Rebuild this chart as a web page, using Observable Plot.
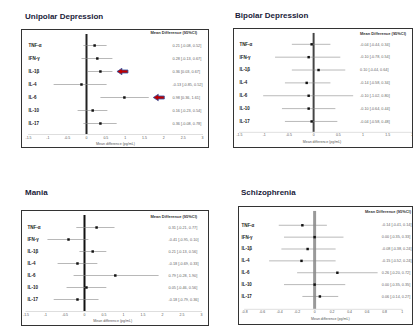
<!DOCTYPE html>
<html>
<head>
<meta charset="utf-8">
<script src="https://cdn.jsdelivr.net/npm/d3@7"></script>
<script src="https://cdn.jsdelivr.net/npm/@observablehq/plot@0.6"></script>
<style>
  body { margin: 0; background: #fff; }
  #root { position: relative; width: 413px; height: 326px; overflow: hidden; background: #fff; font-family: "Liberation Sans", Arial, sans-serif; }
  .title { position: absolute; font-size: 8px; font-weight: bold; line-height: 9px; color: #1b1b3a; white-space: nowrap; }
  .box { position: absolute; }
  .box svg { display: block; outline: 1.5px solid #333; outline-offset: -1.5px; overflow: visible; }
</style>
</head>
<body>
<div id="root"></div>
<script>
// ---- data ----
const rows = ["TNF-α", "IFN-γ", "IL-1β", "IL-4", "IL-6", "IL-10", "IL-17"];
const headerText = "Mean Difference (95%CI)";
const xAxisLabel = "Mean difference (pg/mL)";

const unipolarMean = [0.21, 0.28, 0.36, -0.13, 0.98, 0.16, 0.36];
const unipolarLow  = [-0.08, -0.13, 0.03, -0.85, 0.36, -0.23, -0.08];
const unipolarHigh = [0.52, 0.67, 0.67, 0.52, 1.61, 0.54, 0.78];
const unipolarTicks = [-1.5, -1, -0.5, 0, 0.5, 1, 1.5, 2, 2.5, 3];
const unipolarArrowRows = ["IL-1β", "IL-6"];
const unipolarArrowX = [0.93, 1.87];

const bipolarMean = [-0.04, -0.10, 0.10, -0.14, -0.10, -0.10, -0.04];
const bipolarLow  = [-0.44, -0.78, -0.44, -0.58, -1.02, -0.64, -0.58];
const bipolarHigh = [0.34, 0.54, 0.64, 0.34, 0.80, 0.44, 0.48];
const bipolarTicks = [-1.5, -1, -0.5, 0, 0.5, 1, 1.5, 2];

const maniaMean = [0.31, -0.41, 0.21, -0.18, 0.79, 0.05, -0.18];
const maniaLow  = [-0.21, -0.95, -0.13, -0.69, -0.28, -0.46, -0.79];
const maniaHigh = [0.77, 0.10, 0.56, 0.33, 1.90, 0.56, 0.36];
const maniaTicks = [-1.5, -1, -0.5, 0, 0.5, 1, 1.5, 2, 2.5, 3];

const schizoMean = [-0.14, 0.00, -0.08, -0.15, 0.26, 0.00, 0.06];
const schizoLow  = [-0.41, -0.35, -0.38, -0.52, -0.20, -0.35, -0.14];
const schizoHigh = [0.14, 0.33, 0.24, 0.24, 0.72, 0.35, 0.27];
const schizoTicks = [-0.8, -0.6, -0.4, -0.2, 0, 0.2, 0.4, 0.6, 0.8, 1];

// ---- custom block-arrow symbol (pointing left) ----
const leftArrow = {
  draw(context, size) {
    const s = Math.sqrt(size / Math.PI);
    context.moveTo(-s, 0);
    context.lineTo(-0.1 * s, -0.58 * s);
    context.lineTo(-0.1 * s, -0.27 * s);
    context.lineTo(s, -0.27 * s);
    context.lineTo(s, 0.27 * s);
    context.lineTo(-0.1 * s, 0.27 * s);
    context.lineTo(-0.1 * s, 0.58 * s);
    context.closePath();
  }
};

const fmt = v => v.toFixed(2);

const panels = [
  { title: "Unipolar Depression", tx: 25, ty: 12,
    left: 21, top: 29, w: 188, h: 119, ml: 7, mr: 7, mt: 5, mb: 14, pad: 0.75,
    mean: unipolarMean, lo: unipolarLow, hi: unipolarHigh, ticks: unipolarTicks,
    zero: "#222", zeroW: 2, lx: 7, vx: 151, hx: 129, hy: 3, labDx: 0,
    arrows: unipolarArrowRows.map((r, i) => ({ row: r, x: unipolarArrowX[i] })) },
  { title: "Bipolar Depression", tx: 235, ty: 11,
    left: 233, top: 28, w: 182, h: 121, ml: 6, mr: 1, mt: 5, mb: 16, pad: 0.8,
    mean: bipolarMean, lo: bipolarLow, hi: bipolarHigh, ticks: bipolarTicks,
    zero: "#444", zeroW: 2, lx: 6, vx: 128, hx: 128, hy: 5, labDx: -4, arrows: [] },
  { title: "Mania", tx: 25, ty: 188,
    left: 21, top: 210, w: 188, h: 116, ml: 4.5, mr: 8, mt: 5, mb: 15, pad: 0.84,
    mean: maniaMean, lo: maniaLow, hi: maniaHigh, ticks: maniaTicks,
    zero: "#111", zeroW: 2, lx: 6, vx: 147, hx: 129, hy: 6, labDx: -1, arrows: [] },
  { title: "Schizophrenia", tx: 241, ty: 188,
    left: 238, top: 206, w: 177, h: 120, ml: 6.2, mr: 11.5, mt: 5, mb: 16, pad: 0.86,
    mean: schizoMean, lo: schizoLow, hi: schizoHigh, ticks: schizoTicks,
    zero: "#999", zeroW: 3, lx: 3, vx: 145, hx: 128, hy: 5, labDx: 7, arrows: [] }
];

const root = document.getElementById("root");

for (const p of panels) {
  const t = document.createElement("div");
  t.className = "title";
  t.style.left = p.tx + "px";
  t.style.top = p.ty + "px";
  t.textContent = p.title;
  root.appendChild(t);

  const data = rows.map((r, i) => ({ row: r, m: p.mean[i], lo: p.lo[i], hi: p.hi[i] }));
  const domain = [p.ticks[0], p.ticks[p.ticks.length - 1]];

  const chart = Plot.plot({
    width: p.w, height: p.h,
    marginLeft: p.ml, marginRight: p.mr, marginTop: p.mt, marginBottom: p.mb,
    x: { domain, label: null },
    y: { type: "point", domain: rows, padding: p.pad, axis: null },
    style: { fontFamily: "Liberation Sans, Arial, sans-serif", background: "#fff", overflow: "visible" },
    marks: [
      Plot.frame({ anchor: "bottom", stroke: "#c8c8c8", strokeWidth: 0.6 }),
      Plot.axisX({ ticks: p.ticks, tickSize: 0, tickPadding: 1.5, fontSize: 3.5, fill: "#555",
                   tickFormat: d => String(d), label: null }),
      Plot.text([xAxisLabel], { frameAnchor: "bottom", dy: 10.5, dx: p.labDx, fontSize: 3.6, fill: "#555" }),
      Plot.ruleX([0], { stroke: p.zero, strokeWidth: p.zeroW }),
      Plot.link(data, { x1: "lo", x2: "hi", y1: "row", y2: "row", stroke: "#888", strokeWidth: 0.6 }),
      Plot.dot(data, { x: "m", y: "row", symbol: "square", r: 1.4, fill: "#111", stroke: "none" }),
      Plot.text(data, { y: "row", text: "row", frameAnchor: "left", textAnchor: "start",
                        dx: p.lx - p.ml, fontSize: 4.5, fontWeight: "bold", fill: "#222" }),
      Plot.text(data, { y: "row", text: d => `${fmt(d.m)} [${fmt(d.lo)}, ${fmt(d.hi)}]`,
                        frameAnchor: "right", textAnchor: "start",
                        dx: p.vx - (p.w - p.mr), fontSize: 3.8, fill: "#666" }),
      Plot.text([headerText], { frameAnchor: "top-left", textAnchor: "start", lineAnchor: "middle",
                                dx: p.hx - p.ml, dy: p.hy - p.mt, fontSize: 4, fontWeight: "bold", fill: "#333" }),
      Plot.dot(p.arrows, { x: "x", y: "row", symbol: leftArrow, r: 5.5, fill: "#c00000",
                           stroke: "#2f4f9f", strokeWidth: 0.8 })
    ]
  });

  const box = document.createElement("div");
  box.className = "box";
  box.style.left = p.left + "px";
  box.style.top = p.top + "px";
  box.appendChild(chart);
  root.appendChild(box);
}
</script>
</body>
</html>
